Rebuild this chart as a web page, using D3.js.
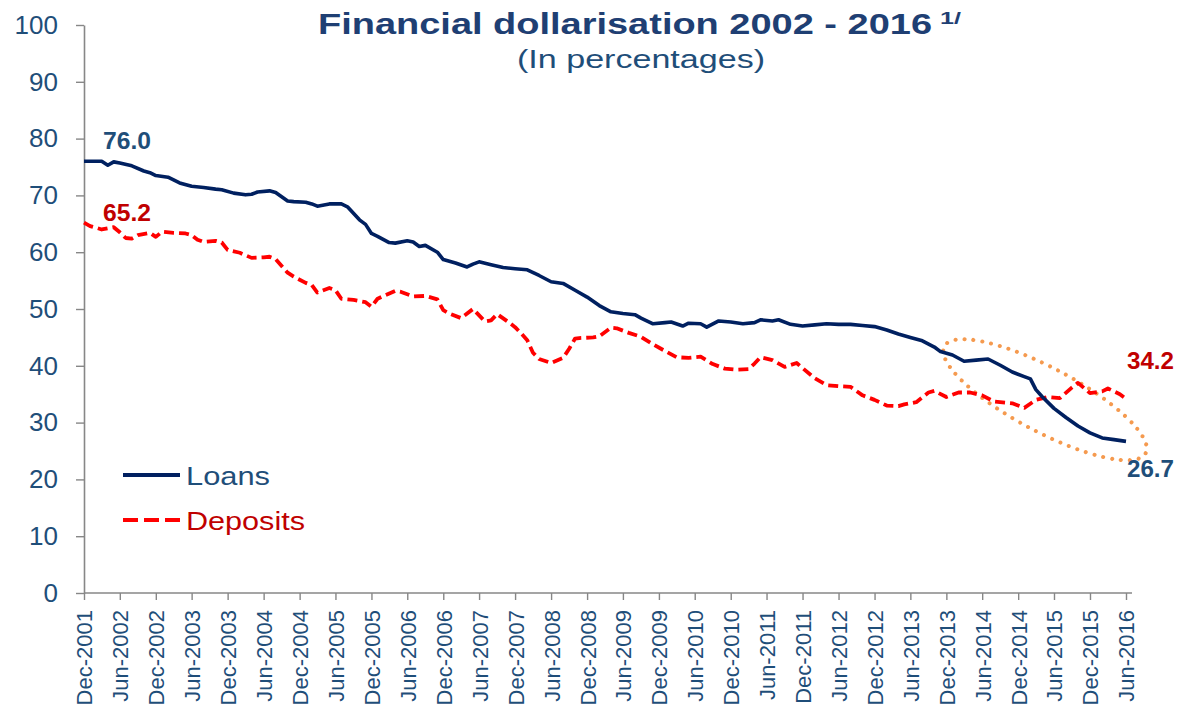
<!DOCTYPE html>
<html>
<head>
<meta charset="utf-8">
<script src="https://cdn.jsdelivr.net/npm/d3@7"></script>
<style>
  body { margin: 0; background: #fff; }
  text { font-family: "Liberation Sans", Arial, sans-serif; }
</style>
</head>
<body>
<svg id="chart"></svg>
<script>
var w = 1180;
var h = 704;

// readings (month, percent)
var loanDates = ["2001-12","2002-01","2002-02","2002-03","2002-04","2002-05","2002-06","2002-08","2002-10","2002-11",
  "2002-12","2003-02","2003-04","2003-06","2003-08","2003-10","2003-11","2004-01","2004-03","2004-04",
  "2004-05","2004-07","2004-08","2004-10","2004-11","2005-01","2005-02","2005-03","2005-05","2005-07",
  "2005-08","2005-10","2005-11","2005-12","2006-01","2006-03","2006-04","2006-06","2006-07","2006-08",
  "2006-09","2006-11","2006-12","2007-02","2007-04","2007-05","2007-06","2007-08","2007-10","2007-12",
  "2008-02","2008-04","2008-06","2008-08","2008-10","2008-12","2009-02","2009-04","2009-06","2009-08",
  "2009-09","2009-11","2010-01","2010-02","2010-04","2010-05","2010-07","2010-08","2010-10","2010-12",
  "2011-02","2011-04","2011-05","2011-07","2011-08","2011-10","2011-12","2012-02","2012-04","2012-06",
  "2012-08","2012-10","2012-12","2013-02","2013-04","2013-06","2013-08","2013-10","2013-11","2014-01",
  "2014-03","2014-05","2014-07","2014-09","2014-11","2015-01","2015-02","2015-03","2015-04","2015-06",
  "2015-08","2015-10","2015-12","2016-02","2016-04","2016-06"];
var loanValues = [76.0,76.0,76.0,76.0,75.3,75.9,75.7,75.2,74.3,74.0,
  73.5,73.2,72.2,71.6,71.4,71.1,71.0,70.4,70.1,70.2,
  70.6,70.8,70.5,69.0,68.9,68.8,68.5,68.1,68.5,68.5,
  68.0,65.7,64.9,63.3,62.8,61.7,61.6,62.0,61.8,61.0,
  61.2,60.0,58.7,58.1,57.4,57.9,58.3,57.8,57.3,57.1,
  56.9,55.9,54.8,54.5,53.3,52.1,50.6,49.5,49.2,49.0,
  48.4,47.4,47.6,47.7,47.0,47.5,47.4,46.8,47.9,47.7,
  47.4,47.6,48.1,47.9,48.1,47.3,47.0,47.2,47.4,47.3,
  47.3,47.1,46.9,46.3,45.6,45.0,44.4,43.3,42.5,41.9,
  40.8,41.0,41.2,40.1,38.9,38.1,37.7,35.8,34.6,32.5,
  30.9,29.4,28.2,27.3,27.0,26.7];

var depositDates = ["2001-12","2002-01","2002-02","2002-03","2002-05","2002-06","2002-07","2002-08","2002-09","2002-11",
  "2002-12","2003-01","2003-03","2003-05","2003-06","2003-07","2003-08","2003-10","2003-11","2003-12",
  "2004-02","2004-04","2004-06","2004-07","2004-08","2004-10","2004-11","2005-01","2005-02","2005-03",
  "2005-05","2005-06","2005-07","2005-09","2005-11","2005-12","2006-01","2006-02","2006-04","2006-05",
  "2006-07","2006-09","2006-11","2006-12","2007-01","2007-03","2007-05","2007-07","2007-08","2007-09",
  "2007-11","2007-12","2008-01","2008-02","2008-03","2008-04","2008-06","2008-08","2008-09","2008-10",
  "2008-11","2009-01","2009-02","2009-04","2009-05","2009-07","2009-09","2009-11","2010-01","2010-03",
  "2010-05","2010-07","2010-09","2010-11","2011-01","2011-03","2011-04","2011-05","2011-07","2011-09",
  "2011-11","2011-12","2012-02","2012-04","2012-06","2012-08","2012-10","2012-12","2013-02","2013-04",
  "2013-05","2013-07","2013-09","2013-10","2013-12","2014-02","2014-04","2014-06","2014-08","2014-11",
  "2015-01","2015-03","2015-05","2015-07","2015-09","2015-10","2015-12","2016-02","2016-03","2016-05",
  "2016-06"];
var depositValues = [65.2,64.6,64.3,64.0,64.4,63.5,62.5,62.4,63.0,63.4,
  62.7,63.6,63.4,63.3,63.0,62.2,61.8,62.0,61.7,60.4,
  59.9,59.0,59.1,59.2,58.8,56.4,55.7,54.6,54.2,52.9,
  53.7,53.3,51.8,51.6,51.2,50.4,51.8,52.3,53.2,53.0,
  52.2,52.3,51.7,49.8,49.2,48.4,50.0,47.8,48.0,49.1,
  47.6,46.8,45.7,44.5,42.3,41.2,40.5,41.4,43.0,44.8,
  44.9,45.0,45.2,46.7,46.6,45.8,45.1,43.8,42.6,41.5,
  41.4,41.6,40.3,39.5,39.3,39.4,40.4,41.5,41.0,39.8,
  40.5,39.6,37.8,36.6,36.4,36.3,34.8,34.0,33.0,32.9,
  33.2,33.6,35.3,35.6,34.5,35.3,35.3,34.8,33.7,33.4,
  32.6,34.0,34.5,34.3,36.2,37.0,35.2,35.5,36.0,35.0,
  34.2];

var yTicks = [0,10,20,30,40,50,60,70,80,90,100];
var seriesNames = ["Loans","Deposits"];
var seriesColors = ["#002060","#FF0000"];
var labelColors = ["#1F4E79","#C00000"];

var parse = d3.timeParse("%Y-%m");
var loans = loanDates.map(function(d, i) { return [parse(d), loanValues[i]]; });
var deposits = depositDates.map(function(d, i) { return [parse(d), depositValues[i]]; });

var x = d3.scaleTime().domain([parse("2001-12"), parse("2016-06")]).range([84, 1126]);
var y = d3.scaleLinear().domain([0, 100]).range([593, 25]);

var line = d3.line().x(function(d) { return x(d[0]); }).y(function(d) { return y(d[1]); });

var graph = d3.select("#chart").attr("width", w).attr("height", h);
graph.append("rect").attr("width", w).attr("height", h).attr("fill", "#fff");

var axisColor = "#878787";
var textBlue = "#1F4E79";

// y axis
var yAxis = d3.axisLeft(y).tickValues(yTicks).tickSize(8).tickPadding(18).tickSizeOuter(0);
var gY = graph.append("g").attr("transform", "translate(84,0)").call(yAxis);
gY.select(".domain").attr("stroke", axisColor).attr("stroke-width", 1.6);
gY.selectAll(".tick line").attr("stroke", axisColor).attr("stroke-width", 1.4);
gY.selectAll(".tick text").attr("fill", textBlue).attr("font-size", 26)
  .style("font-family", "'Liberation Sans', Arial, sans-serif");

// x axis, ticks every six months
var tickDates = d3.timeMonth.range(parse("2001-12"), parse("2016-07"), 6);
var xAxis = d3.axisBottom(x).tickValues(tickDates).tickFormat(d3.timeFormat("%b-%Y")).tickSize(7).tickSizeOuter(0);
var gX = graph.append("g").attr("transform", "translate(0,593)").call(xAxis);
gX.select(".domain").attr("stroke", axisColor).attr("stroke-width", 1.6)
  .attr("d", "M84,0H1132");
gX.selectAll(".tick line").attr("stroke", axisColor).attr("stroke-width", 1.4);
gX.selectAll(".tick text")
  .attr("fill", textBlue).attr("font-size", 22)
  .style("font-family", "'Liberation Sans', Arial, sans-serif")
  .attr("text-anchor", "end")
  .attr("transform", "rotate(-90)")
  .attr("x", -17).attr("y", 0).attr("dy", "0.36em");

// highlight ellipse round the crossing
var ellipseCenter = [parse("2015-04"), 34.2];
graph.append("ellipse")
  .attr("transform", "translate(" + (x(ellipseCenter[0]) + 3) + "," + (y(ellipseCenter[1]) + 1) + ") rotate(28)")
  .attr("rx", 114).attr("ry", 32)
  .attr("fill", "none").attr("stroke", "#F59A4F").attr("stroke-width", 4)
  .attr("stroke-linecap", "round").attr("stroke-dasharray", "0,9");

// series
graph.append("path").attr("d", line(deposits))
  .attr("fill", "none").attr("stroke", seriesColors[1]).attr("stroke-width", 3.8)
  .attr("stroke-dasharray", "10,5").attr("stroke-linejoin", "round");
graph.append("path").attr("d", line(loans))
  .attr("fill", "none").attr("stroke", seriesColors[0]).attr("stroke-width", 3.6)
  .attr("stroke-linejoin", "round");

// end-point labels
var first = [loans[0], deposits[0]];
var last = [loans[loans.length - 1], deposits[deposits.length - 1]];
graph.append("text").attr("x", x(first[0][0]) + 19).attr("y", y(first[0][1]) - 12)
  .attr("fill", labelColors[0]).attr("font-weight", "bold").attr("font-size", 24)
  .attr("textLength", 48).attr("lengthAdjust", "spacingAndGlyphs")
  .text(first[0][1].toFixed(1));
graph.append("text").attr("x", x(first[1][0]) + 19).attr("y", y(first[1][1]) - 2)
  .attr("fill", labelColors[1]).attr("font-weight", "bold").attr("font-size", 24)
  .attr("textLength", 48).attr("lengthAdjust", "spacingAndGlyphs")
  .text(first[1][1].toFixed(1));
graph.append("text").attr("x", x(last[1][0]) + 1).attr("y", y(last[1][1]) - 30)
  .attr("fill", labelColors[1]).attr("font-weight", "bold").attr("font-size", 24)
  .attr("textLength", 47).attr("lengthAdjust", "spacingAndGlyphs")
  .text(last[1][1].toFixed(1));
graph.append("text").attr("x", x(last[0][0]) + 1).attr("y", y(last[0][1]) + 36)
  .attr("fill", labelColors[0]).attr("font-weight", "bold").attr("font-size", 24)
  .attr("textLength", 47).attr("lengthAdjust", "spacingAndGlyphs")
  .text(last[0][1].toFixed(1));

// legend
var legend = graph.append("g").attr("transform", "translate(123,475)");
legend.append("line").attr("x1", 0).attr("x2", 57).attr("y1", 0).attr("y2", 0)
  .attr("stroke", seriesColors[0]).attr("stroke-width", 3.8);
legend.append("line").attr("x1", 0).attr("x2", 57).attr("y1", 45).attr("y2", 45)
  .attr("stroke", seriesColors[1]).attr("stroke-width", 3.8).attr("stroke-dasharray", "15,6");
legend.append("text").attr("x", 63).attr("y", 10).attr("fill", textBlue)
  .attr("font-size", 26).attr("textLength", 84).attr("lengthAdjust", "spacingAndGlyphs")
  .text(seriesNames[0]);
legend.append("text").attr("x", 63).attr("y", 55).attr("fill", "#C00000")
  .attr("font-size", 26).attr("textLength", 119).attr("lengthAdjust", "spacingAndGlyphs")
  .text(seriesNames[1]);

// titles
graph.append("text").attr("x", 318).attr("y", 34).attr("fill", "#1F3F73")
  .attr("font-weight", "bold").attr("font-size", 30)
  .attr("textLength", 614).attr("lengthAdjust", "spacingAndGlyphs")
  .text("Financial dollarisation 2002 - 2016");
graph.append("text").attr("x", 940).attr("y", 24).attr("fill", "#1F3F73")
  .attr("font-weight", "bold").attr("font-size", 17)
  .attr("textLength", 21).attr("lengthAdjust", "spacingAndGlyphs")
  .text("1/");
graph.append("text").attr("x", 517).attr("y", 68).attr("fill", textBlue)
  .attr("font-size", 25).attr("textLength", 248).attr("lengthAdjust", "spacingAndGlyphs")
  .text("(In percentages)");
</script>
</body>
</html>
